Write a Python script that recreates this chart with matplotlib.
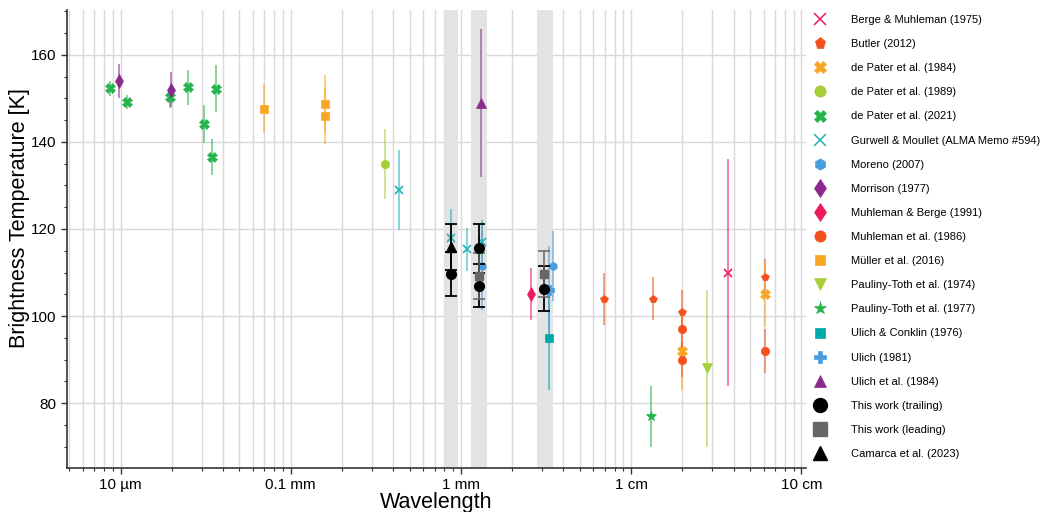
import matplotlib
matplotlib.use("Agg")
import matplotlib.pyplot as plt
from matplotlib.lines import Line2D
from matplotlib.ticker import FixedLocator, LogLocator, NullFormatter, MultipleLocator

plt.rcParams['font.family'] = ['Liberation Sans', 'DejaVu Sans']

# ---- data (wavelength in mm, brightness temperature in K) ----
berge_wl = [37.2]; berge_T = [110]; berge_e = [26]
butler_wl = [6.9, 13.4, 20.0, 61.0]; butler_T = [104, 104, 101, 109]; butler_e = [6, 5, 5, 4]
dp84_wl = [20.0, 61.0]; dp84_T = [92, 105]; dp84_e = [9, 7.5]
dp89_wl = [0.358]; dp89_T = [135]; dp89_e = [8]
dp21_wl = [0.0087, 0.0109, 0.0195, 0.0249, 0.031, 0.0345, 0.0365]
dp21_T = [152.3, 149.1, 150.4, 152.5, 144.1, 136.5, 152.2]
dp21_e = [1.8, 1.6, 2.5, 4.1, 4.4, 4.2, 5.4]
gur_wl = [0.434, 0.877, 1.08, 1.33]; gur_T = [129, 118, 115.3, 117]; gur_e = [9.2, 6.6, 5, 5]
moreno_wl = [1.334, 3.47]; moreno_T = [111.5, 111.5]; moreno_e = [10, 8]
morr_wl = [0.00984, 0.0197]; morr_T = [154, 152]; morr_e = [4, 4]
mb91_wl = [2.59]; mb91_T = [105]; mb91_e = [6]
muh86_wl = [20.0, 20.0, 61.0]; muh86_T = [97, 90, 92]; muh86_e = [4, 4, 5]
muller_wl = [0.0694, 0.159, 0.159]; muller_T = [147.6, 148.8, 145.9]; muller_e = [5.6, 6.6, 6.4]
pt74_wl = [28.0]; pt74_T = [88]; pt74_e = [18]
pt77_wl = [13.0]; pt77_T = [77]; pt77_e = [7]
uc76_wl = [3.29]; uc76_T = [95]; uc76_e = [12]
u81_wl = [3.29]; u81_T = [106]; u81_e = [10]
u84_wl = [1.31]; u84_T = [149]; u84_e = [17]
trail_wl = [0.87, 1.28, 1.28, 3.06]; trail_T = [109.6, 115.6, 107, 106.3]; trail_e = [5, 5.6, 5, 5.1]
lead_wl = [1.28, 3.06]; lead_T = [109.2, 109.7]; lead_e = [5.2, 5.3]
cam_wl = [0.87]; cam_T = [115.9]; cam_e = [5.3]

bands = [(0.80, 0.955), (1.145, 1.415), (2.79, 3.46)]

tick_vals = [0.01, 0.1, 1, 10, 100]
tick_labels = ["10 µm", "0.1 mm", "1 mm", "1 cm", "10 cm"]

PINK = '#EC1B5C'; ORED = '#F4511E'; AMBER = '#F8A724'; YGREEN = '#A6CE39'
GREEN = '#25B34B'; TEAL = '#1FB5B8'; TEAL2 = '#00A9AA'; BLUE = '#4A9DDD'; PURPLE = '#8B2A8C'
GRAY = '#666666'

series = [
    ("Berge & Muhleman (1975)", berge_wl, berge_T, berge_e, 'x', PINK, 6),
    ("Butler (2012)", butler_wl, butler_T, butler_e, 'p', ORED, 6),
    ("de Pater et al. (1984)", dp84_wl, dp84_T, dp84_e, 'X', AMBER, 6.5),
    ("de Pater et al. (1989)", dp89_wl, dp89_T, dp89_e, 'o', YGREEN, 6),
    ("de Pater et al. (2021)", dp21_wl, dp21_T, dp21_e, 'X', GREEN, 6.5),
    ("Gurwell & Moullet (ALMA Memo #594)", gur_wl, gur_T, gur_e, 'x', TEAL, 6),
    ("Moreno (2007)", moreno_wl, moreno_T, moreno_e, 'h', BLUE, 6),
    ("Morrison (1977)", morr_wl, morr_T, morr_e, 'd', PURPLE, 7),
    ("Muhleman & Berge (1991)", mb91_wl, mb91_T, mb91_e, 'd', PINK, 7),
    ("Muhleman et al. (1986)", muh86_wl, muh86_T, muh86_e, 'o', ORED, 6),
    ("Müller et al. (2016)", muller_wl, muller_T, muller_e, 's', AMBER, 5.5),
    ("Pauliny-Toth et al. (1974)", pt74_wl, pt74_T, pt74_e, 'v', YGREEN, 6.5),
    ("Pauliny-Toth et al. (1977)", pt77_wl, pt77_T, pt77_e, '*', GREEN, 7),
    ("Ulich & Conklin (1976)", uc76_wl, uc76_T, uc76_e, 's', TEAL2, 5.5),
    ("Ulich (1981)", u81_wl, u81_T, u81_e, 'P', BLUE, 6.5),
    ("Ulich et al. (1984)", u84_wl, u84_T, u84_e, '^', PURPLE, 6.5),
]
ours = [
    ("This work (trailing)", trail_wl, trail_T, trail_e, 'o', 'black', 7),
    ("This work (leading)", lead_wl, lead_T, lead_e, 's', GRAY, 6),
    ("Camarca et al. (2023)", cam_wl, cam_T, cam_e, '^', 'black', 7.5),
]

fig = plt.figure(figsize=(10.44, 5.12), dpi=100)
ax = fig.add_axes([67/1044, 44/512, (806-67)/1044, 458/512])

for lo, hi in bands:
    ax.axvspan(lo, hi, color='#e3e3e3', zorder=0.6, lw=0)

handles = []
for lab, wl, T, e, m, c, ms in series:
    ax.errorbar(wl, T, yerr=e, fmt='none', ecolor=c, elinewidth=1.1, alpha=0.7, zorder=2)
    ax.plot(wl, T, ls='none', marker=m, color=c, ms=ms, mew=1.2 if m == 'x' else 0.5, zorder=3)
    handles.append(Line2D([], [], ls='none', marker=m, color=c, ms=ms*1.35,
                          mew=1.1 if m == 'x' else 0.5, label=lab))
for lab, wl, T, e, m, c, ms in ours:
    ax.errorbar(wl, T, yerr=e, fmt='none', ecolor=c, elinewidth=1.3, capsize=4.5,
                capthick=1.3, alpha=0.85 if c == GRAY else 1.0, zorder=4)
    ax.plot(wl, T, ls='none', marker=m, color=c, ms=ms, zorder=5)
    handles.append(Line2D([], [], ls='none', marker=m, color=c, ms=10, label=lab))

ax.set_xscale('log')
ax.set_xlim(0.00485, 106.3)
ax.set_ylim(65.1, 170.3)
ax.xaxis.set_major_locator(FixedLocator(tick_vals))
ax.set_xticklabels(tick_labels)
ax.xaxis.set_minor_locator(LogLocator(base=10, subs=range(2, 10), numticks=20))
ax.xaxis.set_minor_formatter(NullFormatter())
ax.yaxis.set_major_locator(MultipleLocator(20))
ax.yaxis.set_minor_locator(MultipleLocator(5))

ax.grid(True, which='major', axis='both', color='#d9d9d9', lw=1.0, zorder=0.5)
ax.grid(True, which='minor', axis='x', color='#d9d9d9', lw=1.0, zorder=0.5)
ax.set_axisbelow(True)

for s in ['top', 'right']:
    ax.spines[s].set_visible(False)
for s in ['left', 'bottom']:
    ax.spines[s].set_color('#333333')
    ax.spines[s].set_linewidth(1.2)
ax.tick_params(which='major', direction='out', length=4, width=1, colors='#333333',
               labelsize=11, labelcolor='black')
ax.tick_params(which='minor', direction='out', length=2.5, width=0.8, colors='#333333')

ax.set_xlabel("Wavelength", fontsize=15.5, labelpad=0)
ax.set_ylabel("Brightness Temperature [K]", fontsize=15.5)
ax.yaxis.set_label_coords(-0.050, 0.545)

fig.legend(handles=handles, loc='upper left', bbox_to_anchor=(811/1044, 1 - 15/512),
           frameon=False, fontsize=8, handlelength=1.6, handletextpad=2.0,
           labelspacing=1.27, borderaxespad=0, borderpad=0, numpoints=1)

fig.savefig("out.png", dpi=100)
